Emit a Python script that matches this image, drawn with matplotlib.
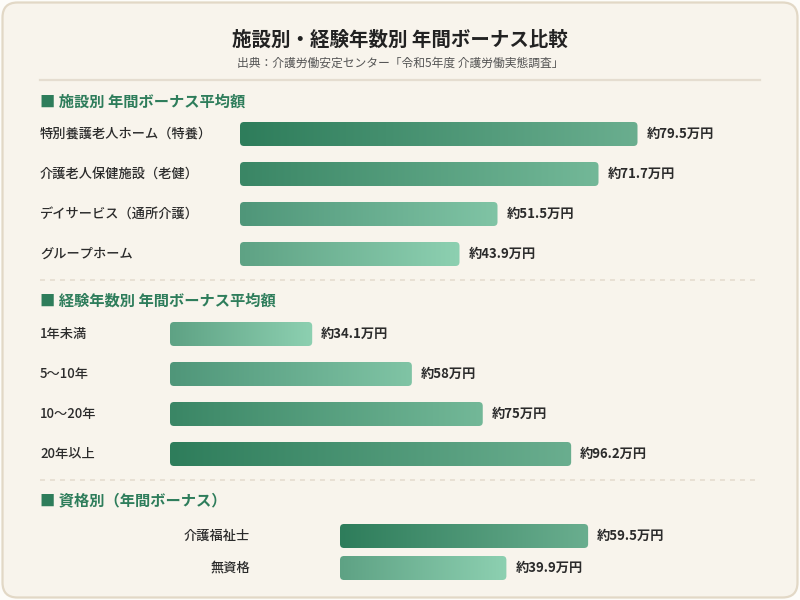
"""Annual bonus comparison by facility type, years of experience and
qualification, drawn as gradient horizontal bars on a card layout."""

import matplotlib.pyplot as plt
import matplotlib.transforms as mtransforms
import numpy as np
from matplotlib.colors import LinearSegmentedColormap
from matplotlib.lines import Line2D
from matplotlib.patches import FancyBboxPatch

plt.rcParams["font.family"] = ["Noto Sans CJK JP", "DejaVu Sans"]

TITLE = "施設別・経験年数別 年間ボーナス比較"
SUBTITLE = "出典：介護労働安定センター「令和5年度 介護労働実態調査」"

SECTION_TITLES = [
    "■ 施設別 年間ボーナス平均額",
    "■ 経験年数別 年間ボーナス平均額",
    "■ 資格別（年間ボーナス）",
]

FACILITY_LABELS = [
    "特別養護老人ホーム（特養）",
    "介護老人保健施設（老健）",
    "デイサービス（通所介護）",
    "グループホーム",
]
FACILITY_VALUES = [79.5, 71.7, 51.5, 43.9]

EXPERIENCE_LABELS = ["1年未満", "5〜10年", "10〜20年", "20年以上"]
EXPERIENCE_VALUES = [34.1, 58, 75, 96.2]

QUALIFICATION_LABELS = ["介護福祉士", "無資格"]
QUALIFICATION_VALUES = [59.5, 39.9]

# gradient (start, end) from darkest (largest value) to lightest
GRAD_START = ["#2e7d5b", "#3a8665", "#4f9679", "#5ea284"]
GRAD_END = ["#6aae8f", "#73b898", "#80c4a5", "#8dd0b1"]

GREEN = "#2e7d5b"
TEXT = "#2b2b2b"
CARD = "#f8f4ec"
RULE = "#e5ddd0"

W, H = 800, 600


def fx(px):
    return px / W


def fy(py):
    return 1 - py / H


def gradient_bars(ax, values, height, radius_px=4):
    """Draw barh bars and replace each with a rounded horizontal gradient."""
    y = np.arange(len(values))
    bars = ax.barh(y, values, height=height, color="none")
    p0 = ax.transData.transform((0, 0))
    p1 = ax.transData.transform((1, 1))
    sx, sy = abs(p1[0] - p0[0]), abs(p1[1] - p0[1])

    order = np.argsort(values)[::-1]
    n = len(values)
    grad = np.linspace(0, 1, 256).reshape(1, -1)
    for rank, i in enumerate(order):
        level = round(rank * 3 / (n - 1)) if n > 1 else 0
        cmap = LinearSegmentedColormap.from_list(
            "", [GRAD_START[level], GRAD_END[level]]
        )
        rect = bars[i]
        x0, y0 = rect.get_x(), rect.get_y()
        w, h = rect.get_width(), rect.get_height()
        im = ax.imshow(
            grad, cmap=cmap, extent=(x0, x0 + w, y0, y0 + h),
            aspect="auto", interpolation="bilinear", zorder=2,
        )
        clip = FancyBboxPatch(
            (x0, y0), w, h,
            boxstyle=f"round,pad=0,rounding_size={radius_px / sx}",
            mutation_aspect=sx / sy,
            facecolor="none", edgecolor="none",
        )
        ax.add_patch(clip)
        im.set_clip_path(clip)
    return y


def section(fig, rect, xmax, labels, values, height, label_x, label_ha):
    ax = fig.add_axes(rect)
    ax.set_xlim(0, xmax)
    ax.set_ylim(len(values) - 0.5, -0.5)
    ax.axis("off")
    ax.patch.set_alpha(0)

    y = gradient_bars(ax, values, height)
    ax.set_xlim(0, xmax)
    ax.set_ylim(len(values) - 0.5, -0.5)

    lab_tr = mtransforms.blended_transform_factory(fig.transFigure, ax.transData)
    val_tr = ax.transData + mtransforms.ScaledTranslation(
        9 / 100, 0, fig.dpi_scale_trans
    )
    for yi, lab, v in zip(y, labels, values):
        ax.text(label_x, yi, lab, transform=lab_tr, ha=label_ha, va="center",
                fontsize=9.5, fontweight="medium", color=TEXT)
        ax.text(v, yi, f"約{v:g}万円", transform=val_tr, ha="left",
                va="center", fontsize=9.5, fontweight="bold", color=TEXT)
    return ax


fig = plt.figure(figsize=(8, 6), dpi=100)
fig.patch.set_facecolor("#fdfcf9")

card = FancyBboxPatch(
    (0.025, 0.025), 7.95, 5.95,
    boxstyle="round,pad=0,rounding_size=0.15",
    transform=fig.dpi_scale_trans,
    facecolor=CARD, edgecolor="#e2d8c6", linewidth=1.6, zorder=-5,
)
fig.add_artist(card)

fig.text(0.5, fy(40), TITLE, ha="center", va="center", fontsize=14,
         fontweight="bold", color="#222222")
fig.text(0.5, fy(63), SUBTITLE, ha="center", va="center", fontsize=8.5,
         color="#555555")
fig.add_artist(Line2D([fx(40), fx(760)], [fy(80), fy(80)],
                      transform=fig.transFigure, color=RULE, linewidth=1.6))

for py in (280, 480):
    fig.add_artist(Line2D([fx(40), fx(758)], [fy(py), fy(py)],
                          transform=fig.transFigure, color=RULE,
                          linewidth=1.2, linestyle=(0, (3, 3))))

for py, title in zip((102, 301, 500), SECTION_TITLES):
    fig.text(fx(40), fy(py), title, ha="left", va="center", fontsize=11,
             fontweight="bold", color=GREEN)

# facility: bars start at x=240, 5 px per 万円, rows 40 px apart
section(fig, [fx(240), fy(274), fx(520), 160 / H], 520 / 5.0,
        FACILITY_LABELS, FACILITY_VALUES, 0.6, fx(40), "left")

# experience: bars start at x=170, ~4.17 px per 万円
section(fig, [fx(170), fy(474), fx(590), 160 / H], 590 / 4.17,
        EXPERIENCE_LABELS, EXPERIENCE_VALUES, 0.6, fx(40), "left")

# qualification: bars start at x=340, rows 32 px apart
section(fig, [fx(340), fy(584), fx(420), 64 / H], 420 / 4.17,
        QUALIFICATION_LABELS, QUALIFICATION_VALUES, 0.75, fx(250), "right")

fig.savefig("out.png", dpi=100, facecolor=fig.get_facecolor())
plt.close(fig)
